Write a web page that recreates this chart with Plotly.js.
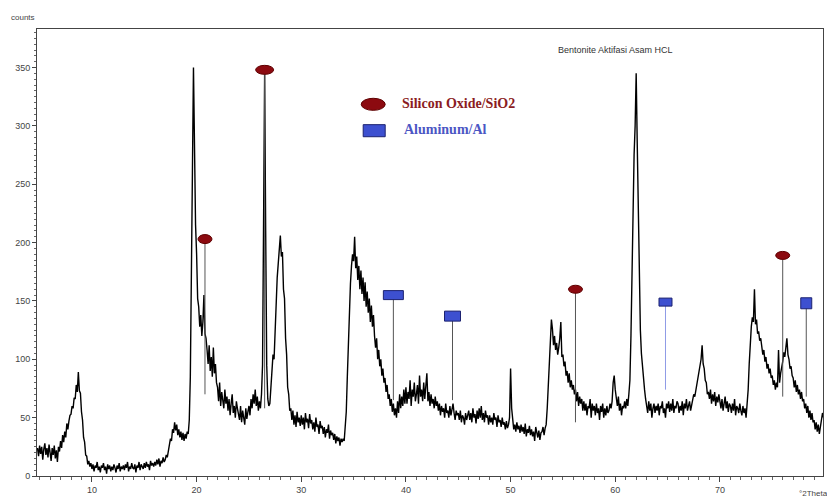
<!DOCTYPE html>
<html><head><meta charset="utf-8">
<script src="https://cdn.plot.ly/plotly-3.0.1.min.js"></script>
<style>html,body{margin:0;padding:0;background:#fff}#chart{width:827px;height:497px}</style>
</head><body><div id="chart"></div>
<script>
// ---- data ----
const startAngle = 4.8;   // first 2Theta sample
const angleStep = 0.1;    // sampling step (deg)
const counts = [
 24, 17,
 26, 19, 25, 14, 23, 28, 18, 24, 16, 27,
 20, 13, 24, 18, 26, 15, 22, 12, 25, 21,
 30, 24, 35, 29, 38, 33, 45, 40, 47, 52,
 53, 60, 58, 67, 66, 78, 72, 89, 73, 71,
 55, 48, 33, 29, 18, 17, 10, 13, 8, 11,
 6, 10, 4, 9, 7, 12, 5, 8, 3, 9,
 7, 11, 5, 8, 2, 10, 6, 9, 4, 8,
 5, 10, 7, 3, 9, 6, 11, 4, 8, 6,
 9, 5, 10, 7, 12, 4, 8, 6, 11, 7,
 6, 10, 3, 9, 7, 12, 5, 10, 8, 6,
 11, 7, 12, 8, 10, 5, 13, 9, 11, 8,
 12, 9, 14, 10, 15, 8, 13, 11, 16, 12,
 14, 18, 16, 21, 24, 32, 30, 40, 37, 46,
 39, 44, 35, 40, 33, 38, 31, 37, 30, 36,
 32, 38, 36, 48, 85, 150, 260, 350, 280, 215,
 190, 152, 145, 128, 138, 120, 132, 155, 122, 118,
 108, 96, 112, 90, 102, 85, 110, 88, 96, 80,
 76, 64, 80, 60, 72, 66, 58, 74, 62, 68,
 56, 66, 52, 62, 70, 54, 60, 50, 64, 58,
 54, 48, 60, 46, 56, 50, 44, 58, 49, 55,
 60, 52, 66, 58, 70, 62, 74, 60, 68, 56,
 64, 58, 70, 95, 190, 345, 210, 95, 66, 60,
 62, 78, 86, 104, 100, 128, 145, 170, 182, 198,
 206, 188, 192, 160, 152, 118, 104, 76, 70, 56,
 58, 48, 56, 44, 52, 42, 55, 46, 50, 43,
 52, 44, 50, 40, 54, 46, 49, 41, 53, 45,
 48, 40, 46, 38, 50, 42, 44, 36, 47, 41,
 43, 36, 42, 33, 40, 37, 44, 32, 39, 35,
 37, 31, 36, 28, 34, 30, 33, 26, 32, 29,
 32, 30, 40, 55, 85, 115, 145, 165, 180, 190,
 184, 205, 178, 188, 168, 180, 160, 176, 156, 170,
 150, 166, 145, 158, 140, 152, 132, 146, 128, 138,
 120, 110, 118, 100, 108, 94, 100, 86, 92, 80,
 84, 72, 78, 66, 70, 60, 66, 55, 62, 52,
 58, 50, 64, 54, 70, 58, 68, 60, 74, 62,
 76, 62, 72, 66, 82, 60, 74, 68, 80, 64,
 70, 78, 62, 86, 68, 74, 64, 80, 66, 76,
 88, 64, 72, 60, 70, 62, 66, 58, 68, 60,
 64, 56, 62, 52, 60, 55, 58, 50, 62, 54,
 56, 50, 60, 52, 58, 62, 54, 48, 56, 52,
 54, 48, 56, 46, 52, 50, 44, 54, 48, 52,
 56, 48, 54, 46, 58, 50, 53, 45, 56, 49,
 58, 50, 60, 48, 54, 46, 56, 50, 52, 44,
 52, 46, 50, 44, 54, 48, 50, 42, 52, 46,
 48, 42, 50, 44, 46, 40, 47, 41, 44, 50,
 92, 58, 48, 40, 44, 38, 46, 40, 43, 37,
 44, 38, 42, 36, 45, 34, 40, 37, 43, 35,
 40, 34, 38, 30, 42, 36, 33, 39, 31, 37,
 38, 42, 35, 41, 44, 58, 80, 104, 122, 134,
 126, 112, 120, 108, 114, 104, 110, 118, 132, 102,
 104, 94, 98, 86, 90, 80, 88, 76, 82, 74,
 78, 70, 74, 64, 72, 60, 68, 62, 66, 56,
 64, 56, 62, 52, 60, 58, 66, 50, 62, 56,
 60, 52, 62, 54, 58, 48, 60, 55, 62, 50,
 58, 52, 60, 54, 56, 62, 58, 64, 80, 86,
 74, 64, 60, 68, 56, 62, 52, 60, 58, 64,
 58, 66, 60, 70, 82, 120, 175, 230, 275, 300,
 345, 285, 220, 158, 125, 105, 92, 84, 74, 66,
 60, 54, 64, 56, 62, 50, 58, 62, 54, 60,
 56, 62, 52, 60, 58, 64, 54, 58, 50, 62,
 58, 64, 55, 62, 56, 66, 54, 60, 58, 64,
 62, 54, 60, 56, 64, 52, 62, 58, 66, 56,
 60, 64, 56, 62, 66, 70, 68, 74, 80, 84,
 88, 94, 100, 112, 96, 92, 82, 80, 70, 72,
 66, 74, 62, 70, 64, 72, 60, 68, 63, 70,
 64, 58, 66, 56, 62, 68, 58, 64, 55, 62,
 60, 54, 62, 56, 66, 52, 60, 58, 54, 62,
 56, 52, 60, 54, 58, 50, 62, 74, 96, 116,
 128, 136, 132, 160, 130, 134, 122, 124, 116, 118,
 110, 104, 108, 98, 102, 92, 96, 88, 92, 84,
 86, 78, 82, 74, 80, 76, 108, 80, 88, 92,
 98, 106, 102, 110, 118, 104, 100, 92, 94, 86,
 84, 76, 82, 72, 78, 70, 74, 66, 72, 64,
 66, 58, 62, 54, 60, 50, 56, 48, 54, 46,
 48, 40, 46, 38, 44, 36, 42, 46, 54, 50
];
const sio2Angles = [20.8, 26.5, 56.2, 76.0];
const sio2Tops   = [203, 348, 160, 189];
const sio2Bases  = [70, 58, 46, 68];
const alAngles = [38.8, 44.45, 64.8, 78.25];
const alTops   = [155, 137, 149, 148];
const alBases  = [65, 65, 74, 68];
const legendLabels = ['Silicon Oxide/SiO2', 'Aluminum/Al'];
const chartTitle = 'Bentonite Aktifasi Asam HCL';

// ---- styles ----
const sio2Px = [[14,9],[18,9],[14,8],[14,8]];
const alPx = [[20,9],[16,10],[13,8],[11,11]];
const alStickColors = ['#555','#555','#8f9be6','#555'];
const redFill = '#8c0a10', redLine = '#5e0000';
const blueFill = '#3d50d0', blueLine = '#1c2270';

const shapes = [];
sio2Angles.forEach((a,i)=>{
  shapes.push({type:'line', xref:'x', yref:'y', x0:a, x1:a, y0:sio2Bases[i], y1:sio2Tops[i], line:{color:'#555', width:1}});
});
alAngles.forEach((a,i)=>{
  shapes.push({type:'line', xref:'x', yref:'y', x0:a, x1:a, y0:alBases[i], y1:alTops[i], line:{color:alStickColors[i], width:1}});
});
sio2Angles.forEach((a,i)=>{
  const [w,h]=sio2Px[i];
  shapes.push({type:'circle', xref:'x', yref:'y', xsizemode:'pixel', ysizemode:'pixel', xanchor:a, yanchor:sio2Tops[i],
    x0:-w/2, x1:w/2, y0:-h/2, y1:h/2, fillcolor:redFill, line:{color:redLine, width:1}});
});
alAngles.forEach((a,i)=>{
  const [w,h]=alPx[i];
  shapes.push({type:'rect', xref:'x', yref:'y', xsizemode:'pixel', ysizemode:'pixel', xanchor:a, yanchor:alTops[i],
    x0:-w/2, x1:w/2, y0:-h/2, y1:h/2, fillcolor:blueFill, line:{color:blueLine, width:1}});
});
// legend symbols (paper coords)
shapes.push({type:'circle', xref:'paper', yref:'paper', x0:0.4125, x1:0.4430, y0:0.818, y1:0.845, fillcolor:redFill, line:{color:redLine, width:1}});
shapes.push({type:'rect', xref:'paper', yref:'paper', x0:0.4150, x1:0.4430, y0:0.759, y1:0.786, fillcolor:blueFill, line:{color:blueLine, width:1}});

const trace = {
  type:'scatter', mode:'lines', x0:startAngle, dx:angleStep, y:counts,
  line:{color:'#000', width:1.4}, hoverinfo:'skip', showlegend:false
};

const layout = {
  width:827, height:497,
  margin:{l:37, r:4, t:29, b:21},
  paper_bgcolor:'#fff', plot_bgcolor:'#fff',
  font:{family:'Liberation Sans, Arial, sans-serif', size:9, color:'#444'},
  showlegend:false,
  xaxis:{range:[4.75,79.85], tickmode:'linear', tick0:0, dtick:10, ticks:'outside', ticklen:5, tickcolor:'#444',
    minor:{dtick:1, ticklen:3, ticks:'outside', tickcolor:'#666'},
    showline:true, linecolor:'#444', linewidth:1, mirror:true, showgrid:false, zeroline:false,
    tickfont:{size:9, color:'#444'}},
  yaxis:{range:[0,383], tickmode:'linear', tick0:0, dtick:50, ticks:'outside', ticklen:4, tickcolor:'#444',
    minor:{dtick:5, ticklen:2, ticks:'outside', tickcolor:'#666'},
    showline:true, linecolor:'#444', linewidth:1, mirror:true, showgrid:false, zeroline:false,
    tickfont:{size:9, color:'#444'}},
  shapes:shapes,
  annotations:[
    {xref:'paper', yref:'paper', x:-0.036, y:1.025, xanchor:'left', yanchor:'middle', text:'counts', showarrow:false, font:{size:8, color:'#444'}},
    {xref:'paper', yref:'paper', x:0.967, y:-0.04, xanchor:'left', yanchor:'middle', text:'°2Theta', showarrow:false, font:{size:8, color:'#444'}},
    {xref:'paper', yref:'paper', x:0.660, y:0.953, xanchor:'left', yanchor:'middle', text:chartTitle, showarrow:false, font:{size:9, color:'#333'}},
    {xref:'paper', yref:'paper', x:0.4618, y:0.834, xanchor:'left', yanchor:'middle', text:'<b>'+legendLabels[0]+'</b>', showarrow:false, font:{family:'Liberation Serif, Times New Roman, serif', size:14, color:'#8b1c22'}},
    {xref:'paper', yref:'paper', x:0.4644, y:0.776, xanchor:'left', yanchor:'middle', text:'<b>'+legendLabels[1]+'</b>', showarrow:false, font:{family:'Liberation Serif, Times New Roman, serif', size:14, color:'#4b56c4'}}
  ]
};

Plotly.newPlot('chart', [trace], layout, {displayModeBar:false, staticPlot:true});
</script>
</body></html>
